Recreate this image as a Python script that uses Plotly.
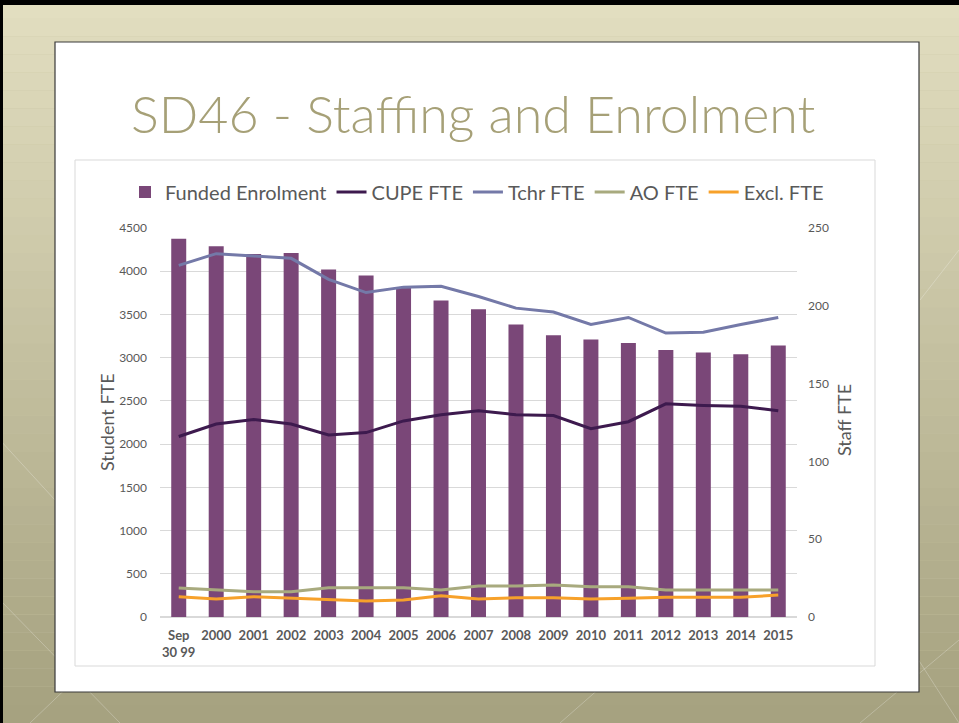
import plotly.graph_objects as go

W, H = 959, 723

categories = ["Sep<br>30 99", "2000", "2001", "2002", "2003", "2004", "2005", "2006", "2007",
              "2008", "2009", "2010", "2011", "2012", "2013", "2014", "2015"]
funded_enrolment = [4375, 4290, 4200, 4210, 4020, 3950, 3810, 3660, 3560, 3385, 3260, 3210,
                    3170, 3090, 3060, 3040, 3140]
cupe_fte = [116, 124, 127, 124, 117, 118.5, 126, 130, 132.5, 130, 129.5, 121, 125.5, 137, 136, 135.5, 132.5]
tchr_fte = [226, 233.5, 232, 230.5, 217, 208.5, 212, 212.5, 206, 198.5, 196, 188, 192.5, 182.5, 183, 188, 192.5]
ao_fte = [18.6, 17.4, 16.3, 16.3, 18.8, 18.8, 18.8, 17.4, 19.9, 19.9, 20.6, 19.5, 19.5, 17.4, 17.4, 17.4, 17.4]
excl_fte = [13, 11.6, 13, 12, 11.4, 10.3, 10.9, 13.7, 11.6, 12.4, 12.4, 11.6, 12, 12.7, 12.7, 12.7, 14.1]

left_ticks = [0, 500, 1000, 1500, 2000, 2500, 3000, 3500, 4000, 4500]
right_ticks = [0, 50, 100, 150, 200, 250]

FONT = "Lato"
GREY = "#595959"

def px_x(x):
    return x / W

def px_y(y):
    return 1 - y / H

fig = go.Figure()

fig.add_trace(go.Bar(x=categories, y=funded_enrolment, name="Funded Enrolment",
                     marker=dict(color="#7a4778", line=dict(width=0)), yaxis="y"))
fig.add_trace(go.Scatter(x=categories, y=cupe_fte, name="CUPE FTE", mode="lines",
                         line=dict(color="#3d1a4e", width=3), yaxis="y2"))
fig.add_trace(go.Scatter(x=categories, y=tchr_fte, name="Tchr FTE", mode="lines",
                         line=dict(color="#7479a8", width=3), yaxis="y2"))
fig.add_trace(go.Scatter(x=categories, y=ao_fte, name="AO FTE", mode="lines",
                         line=dict(color="#a8aa7e", width=3), yaxis="y2"))
fig.add_trace(go.Scatter(x=categories, y=excl_fte, name="Excl. FTE", mode="lines",
                         line=dict(color="#f7a12a", width=3), yaxis="y2"))

shapes = []
# slide background gradient
top_c = (0xe2, 0xde, 0xc0)
bot_c = (0xa6, 0xa2, 0x80)
n = 40
for i in range(n):
    t = i / (n - 1)
    c = tuple(int(top_c[k] + (bot_c[k] - top_c[k]) * t) for k in range(3))
    shapes.append(dict(type="rect", xref="paper", yref="paper", layer="below",
                       x0=0, x1=1, y0=1 - (i + 1) / n, y1=1 - i / n,
                       fillcolor="rgb(%d,%d,%d)" % c, line=dict(width=0)))
# faint decorative lines
for (x0, y0, x1, y1) in [(0, 600, 120, 723), (30, 723, 200, 560), (560, 723, 700, 600),
                         (880, 600, 959, 723), (860, 723, 959, 640), (0, 440, 55, 500),
                         (920, 300, 959, 250)]:
    shapes.append(dict(type="line", xref="paper", yref="paper", layer="below",
                       x0=px_x(x0), y0=px_y(y0), x1=px_x(x1), y1=px_y(y1),
                       line=dict(color="rgba(255,255,255,0.25)", width=1)))
# black top/left border
shapes.append(dict(type="rect", xref="paper", yref="paper", layer="below",
                   x0=0, x1=1, y0=px_y(5), y1=1, fillcolor="black", line=dict(width=0)))
shapes.append(dict(type="rect", xref="paper", yref="paper", layer="below",
                   x0=0, x1=px_x(3), y0=0, y1=1, fillcolor="black", line=dict(width=0)))
# white slide box
shapes.append(dict(type="rect", xref="paper", yref="paper", layer="below",
                   x0=px_x(55), x1=px_x(919), y0=px_y(692), y1=px_y(42),
                   fillcolor="white", line=dict(color="#3a3a3a", width=1.2)))
# chart area border
shapes.append(dict(type="rect", xref="paper", yref="paper", layer="below",
                   x0=px_x(75), x1=px_x(875), y0=px_y(666), y1=px_y(160),
                   fillcolor="white", line=dict(color="#d9d9d9", width=1)))

annotations = [
    dict(text="SD46 - Staffing and Enrolment", xref="paper", yref="paper",
         x=px_x(473), y=px_y(113), xanchor="center", yanchor="middle", showarrow=False,
         font=dict(family=FONT, size=52, color="#a6a077", weight=300)),
    dict(text="Student FTE", xref="paper", yref="paper", x=px_x(107), y=px_y(422),
         xanchor="center", yanchor="middle", textangle=-90, showarrow=False,
         font=dict(family=FONT, size=18, color=GREY)),
    dict(text="Staff FTE", xref="paper", yref="paper", x=px_x(844), y=px_y(420),
         xanchor="center", yanchor="middle", textangle=-90, showarrow=False,
         font=dict(family=FONT, size=18, color=GREY)),
]

fig.update_layout(
    width=W, height=H,
    margin=dict(l=0, r=0, t=0, b=0, autoexpand=False),
    paper_bgcolor="#c8c4a2",
    plot_bgcolor="rgba(0,0,0,0)",
    shapes=shapes,
    annotations=annotations,
    showlegend=True,
    legend=dict(orientation="h", x=px_x(477), y=px_y(192), xanchor="center", yanchor="middle",
                font=dict(family=FONT, size=20, color=GREY), bgcolor="rgba(0,0,0,0)",
                itemwidth=30, tracegroupgap=0, traceorder="normal"),
    bargap=0.6,
    xaxis=dict(domain=[px_x(160), px_x(797)], showgrid=False, zeroline=False,
               showline=False, ticks="", tickangle=0, automargin=False, ticklabelstandoff=9,
               tickfont=dict(family=FONT, size=13, color=GREY, weight="bold")),
    yaxis=dict(domain=[px_y(617), px_y(228)], range=[0, 4500], tickvals=left_ticks,
               showgrid=True, gridcolor="#d9d9d9", gridwidth=1, zeroline=True,
               zerolinecolor="#d9d9d9", showline=False, ticks="", automargin=False,
               ticklabelstandoff=12,
               tickfont=dict(family=FONT, size=12, color=GREY)),
    yaxis2=dict(overlaying="y", side="right", range=[0, 250], tickvals=right_ticks,
                showgrid=False, zeroline=False, showline=False, ticks="", automargin=False,
                ticklabelstandoff=10,
                tickfont=dict(family=FONT, size=12, color=GREY)),
)

fig.write_html("out.html")
